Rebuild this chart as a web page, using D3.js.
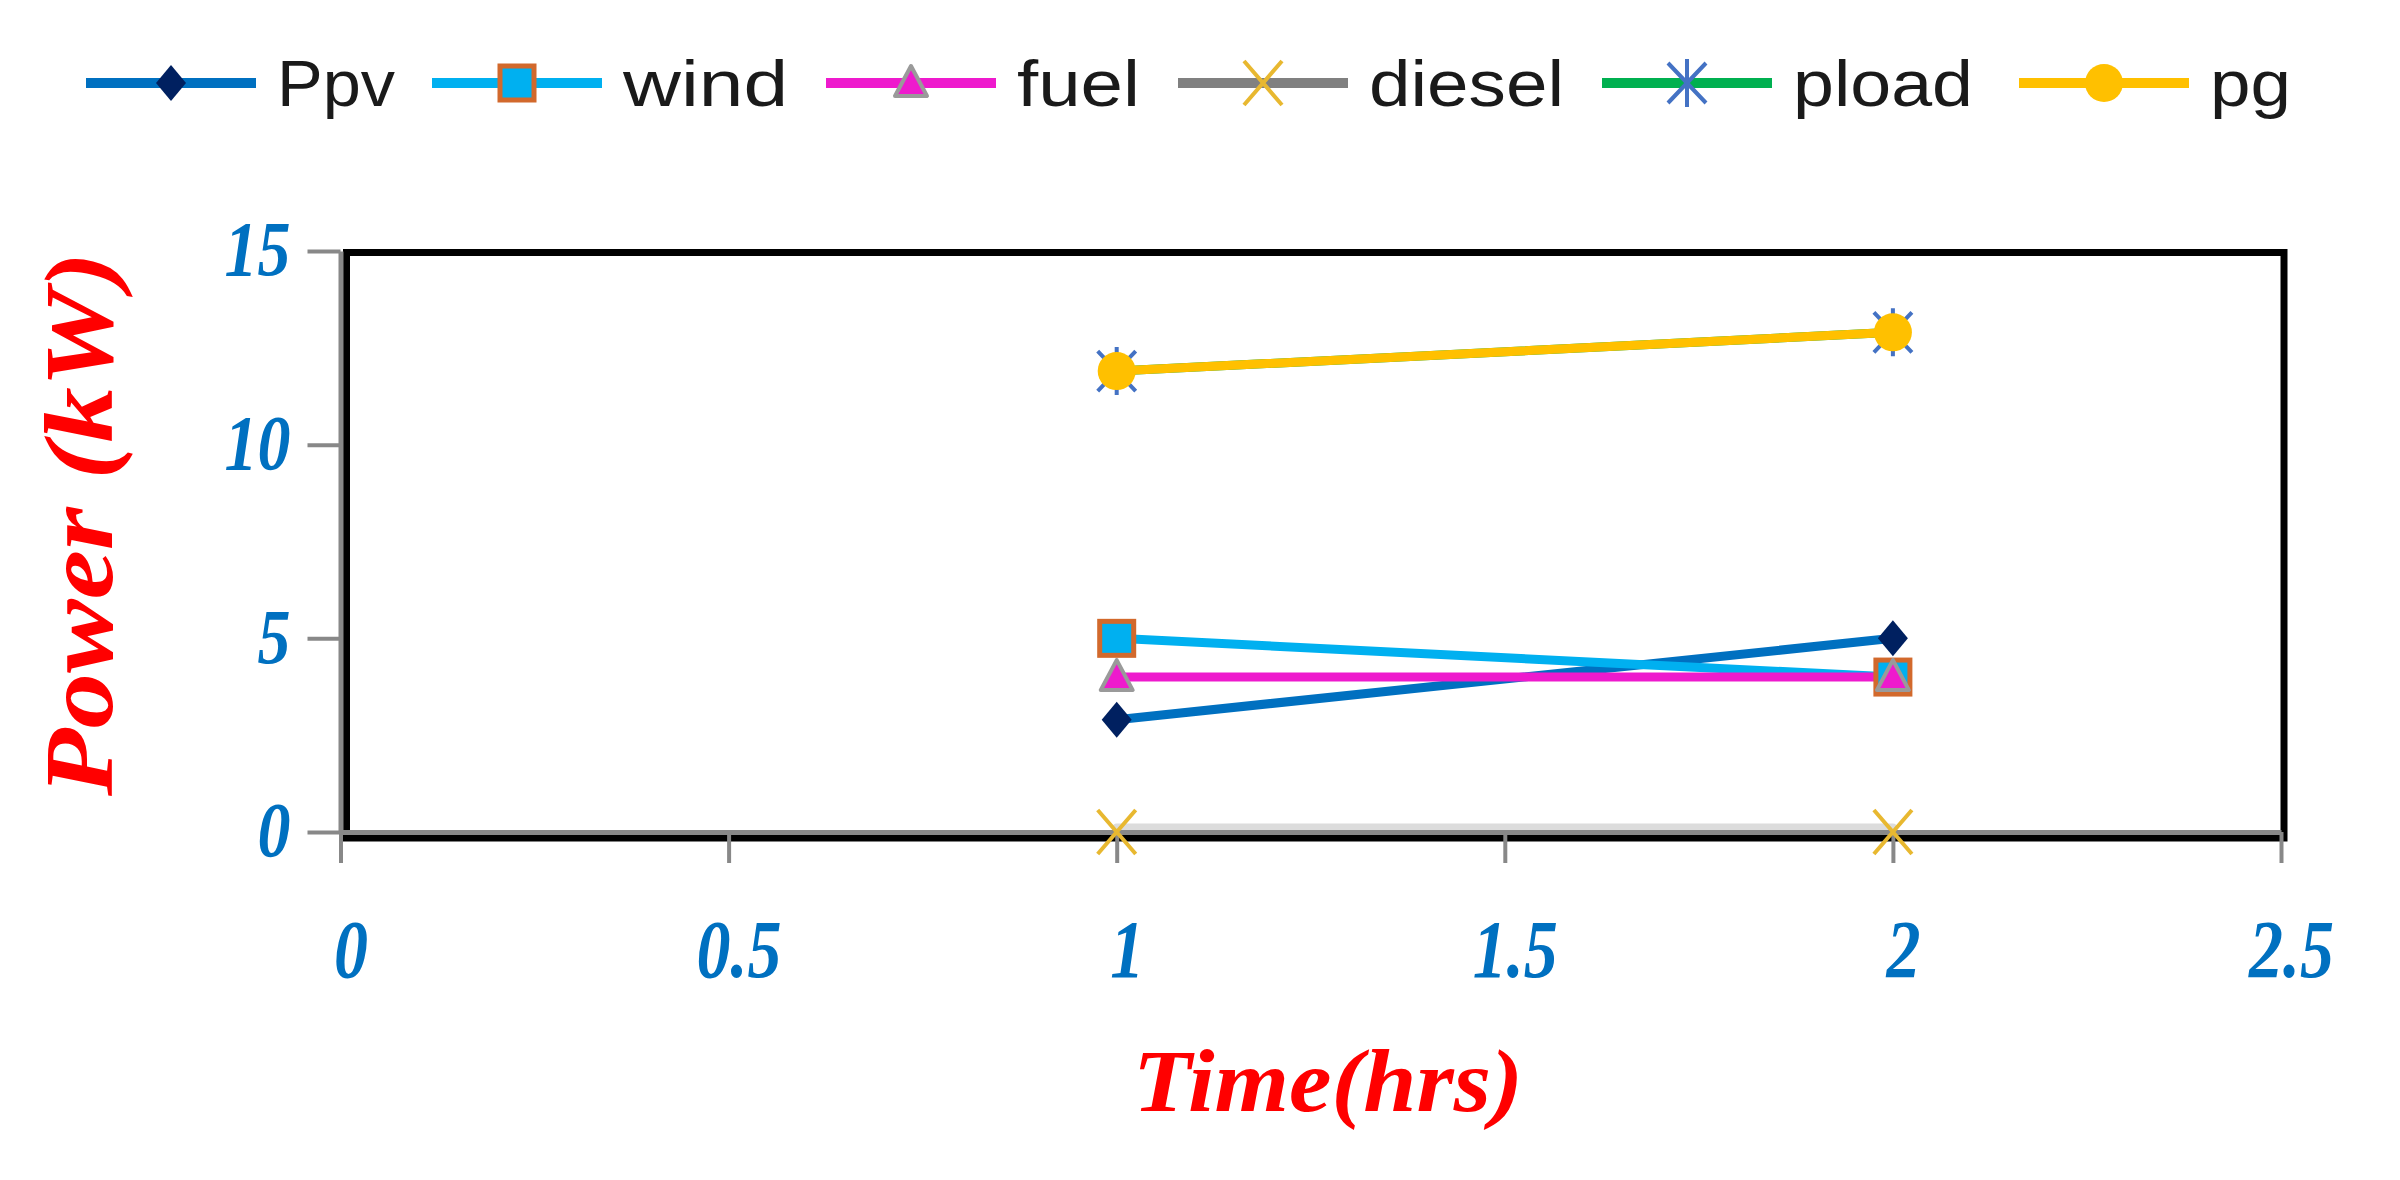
<!DOCTYPE html>
<html><head><meta charset="utf-8">
<script src="https://cdn.jsdelivr.net/npm/d3@7"></script>
<style>html,body{margin:0;padding:0;background:#fff;}svg{display:block;}</style>
</head><body>
<svg id="chart" width="2400" height="1180"></svg>
<script>
// ---- data ----
const hours = [1, 2];
const ppv = [2.9, 5];
const wind = [5, 4];
const fuel = [4, 4];
const diesel = [0, 0];
const pload = [11.9, 12.9];
const pg = [11.9, 12.9];
const seriesNames = ["Ppv", "wind", "fuel", "diesel", "pload", "pg"];
const xTicks = [0, 0.5, 1, 1.5, 2, 2.5];
const yTicks = [0, 5, 10, 15];
const xTitle = "Time(hrs)";
const yTitle = "Power (kW)";

// ---- styles ----
const styles = {
  Ppv:    {line: "#0070C0", marker: "diamond",  fill: "#002060", stroke: "none"},
  wind:   {line: "#00B0F0", marker: "square",   fill: "#00B0F0", stroke: "#D2692C"},
  fuel:   {line: "#EE1ACD", marker: "triangle", fill: "#EE1ACD", stroke: "#9A9A9A"},
  diesel: {line: "#808080", marker: "x",        fill: "none",    stroke: "#E8B830"},
  pload:  {line: "#00B050", marker: "star",     fill: "none",    stroke: "#4472C4"},
  pg:     {line: "#FFC000", marker: "circle",   fill: "#FFC000", stroke: "none"}
};
const seriesValues = {Ppv: ppv, wind: wind, fuel: fuel, diesel: diesel, pload: pload, pg: pg};

const svg = d3.select("#chart");
const x = d3.scaleLinear().domain([0, 2.5]).range([340.5, 2281]);
const y = d3.scaleLinear().domain([0, 15]).range([832, 251]);

// frame
const fx0 = x(0) + 6, fx1 = x(2.5) + 3, fy0 = y(15) + 1.5, fy1 = y(0) + 6;
svg.append("rect").attr("x", fx0).attr("y", fy0)
  .attr("width", fx1 - fx0).attr("height", fy1 - fy0)
  .attr("fill", "none").attr("stroke", "#000").attr("stroke-width", 7);

const tickFont = "'Liberation Serif','Times New Roman',serif";

// y axis
const yAxis = svg.append("g").attr("transform", `translate(${x(0)},0)`)
  .call(d3.axisLeft(y).tickValues(yTicks).tickSize(33).tickSizeOuter(0).tickFormat(d => String(d)));
yAxis.select(".domain").attr("stroke", "#888").attr("stroke-width", 5);
yAxis.selectAll(".tick line").attr("stroke", "#888").attr("stroke-width", 4);
yAxis.selectAll(".tick text")
  .attr("x", -50).attr("dy", "0.3em")
  .attr("transform", "scale(1,1.2)")
  .attr("fill", "#0070C0").attr("font-family", tickFont)
  .attr("font-weight", "bold").attr("font-style", "italic")
  .attr("font-size", 66).attr("text-anchor", "end");

// series (drawn before the x axis so the grey diesel line sits under it)
const line = d3.line().x(d => x(d[0])).y(d => y(d[1]));
const plot = svg.append("g");

// x axis
const xAxis = svg.append("g").attr("transform", `translate(0,${y(0)})`)
  .call(d3.axisBottom(x).tickValues(xTicks).tickSize(31).tickSizeOuter(0).tickFormat(d => String(d)));
xAxis.select(".domain").attr("stroke", "#888").attr("stroke-width", 5);
xAxis.selectAll(".tick line").attr("stroke", "#888").attr("stroke-width", 4);
xAxis.selectAll(".tick text")
  .attr("y", 121).attr("dy", 0).attr("x", 10)
  .attr("transform", "scale(1,1.2)")
  .attr("fill", "#0070C0").attr("font-family", tickFont)
  .attr("font-weight", "bold").attr("font-style", "italic")
  .attr("font-size", 68).attr("text-anchor", "middle");

// axis titles
svg.append("text")
  .attr("transform", `translate(1328,1111) scale(1,1.2)`)
  .attr("text-anchor", "middle")
  .attr("font-family", tickFont).attr("font-weight", "bold").attr("font-style", "italic")
  .attr("font-size", 74).attr("fill", "#FF0000")
  .attr("textLength", 390).attr("lengthAdjust", "spacingAndGlyphs")
  .text(xTitle);

svg.append("text")
  .attr("transform", `translate(112,524) rotate(-90)`)
  .attr("text-anchor", "middle")
  .attr("font-family", tickFont).attr("font-weight", "bold").attr("font-style", "italic")
  .attr("font-size", 98).attr("fill", "#FF0000")
  .attr("textLength", 544).attr("lengthAdjust", "spacingAndGlyphs")
  .text(yTitle);

// markers
function drawMarker(g, type, cx, cy, st) {
  if (type === "diamond") {
    g.append("path").attr("d", `M${cx},${cy-18}L${cx+15},${cy}L${cx},${cy+18}L${cx-15},${cy}Z`)
      .attr("fill", st.fill);
  } else if (type === "square") {
    g.append("rect").attr("x", cx-17).attr("y", cy-17).attr("width", 34).attr("height", 34)
      .attr("fill", st.fill).attr("stroke", st.stroke).attr("stroke-width", 5);
  } else if (type === "triangle") {
    g.append("path").attr("d", `M${cx},${cy-17}L${cx+16},${cy+13}L${cx-16},${cy+13}Z`)
      .attr("fill", st.fill).attr("stroke", st.stroke).attr("stroke-width", 4).attr("stroke-linejoin", "round");
  } else if (type === "x") {
    g.append("path").attr("d", `M${cx-19},${cy-22}L${cx+19},${cy+22}M${cx+19},${cy-22}L${cx-19},${cy+22}`)
      .attr("fill", "none").attr("stroke", st.stroke).attr("stroke-width", 4);
  } else if (type === "star") {
    g.append("path").attr("d", `M${cx-19},${cy-20}L${cx+19},${cy+20}M${cx+19},${cy-20}L${cx-19},${cy+20}M${cx},${cy-24}L${cx},${cy+24}`)
      .attr("fill", "none").attr("stroke", st.stroke).attr("stroke-width", 4);
  } else if (type === "circle") {
    g.append("circle").attr("cx", cx).attr("cy", cy).attr("r", 19).attr("fill", st.fill);
  }
}

seriesNames.forEach(name => {
  const st = styles[name];
  const pts = hours.map((h, i) => [h, seriesValues[name][i]]);
  const g = plot.append("g");
  g.append("path").attr("d", line(pts)).attr("fill", "none")
    .attr("stroke", name === "diesel" ? "#DCDCDC" : st.line)
    .attr("stroke-width", 9).attr("stroke-linecap", "round")
    .attr("transform", name === "diesel" ? "translate(0,-4)" : null);
});
// markers on top of the axis
seriesNames.forEach(name => {
  const st = styles[name];
  const g = svg.append("g");
  hours.forEach((h, i) => drawMarker(g, st.marker, x(h), y(seriesValues[name][i]), st));
});

// legend
const legendStarts = [86, 432, 826, 1178, 1602, 2019];
const legendTextLen = [118, 165, 123, 195, 180, 81];
const legY = 83;
const leg = svg.append("g");
seriesNames.forEach((name, i) => {
  const st = styles[name];
  const x0 = legendStarts[i];
  const g = leg.append("g");
  g.append("line").attr("x1", x0).attr("x2", x0 + 170).attr("y1", legY).attr("y2", legY)
    .attr("stroke", st.line).attr("stroke-width", 10);
  drawMarker(g, st.marker, x0 + 85, legY, st);
  g.append("text").attr("transform", `translate(${x0 + 191},106)`)
    .attr("font-family", "'Liberation Sans',Arial,sans-serif").attr("font-size", 64)
    .attr("fill", "#1a1a1a").attr("textLength", legendTextLen[i]).attr("lengthAdjust", "spacingAndGlyphs")
    .text(name);
});
</script>
</body></html>
